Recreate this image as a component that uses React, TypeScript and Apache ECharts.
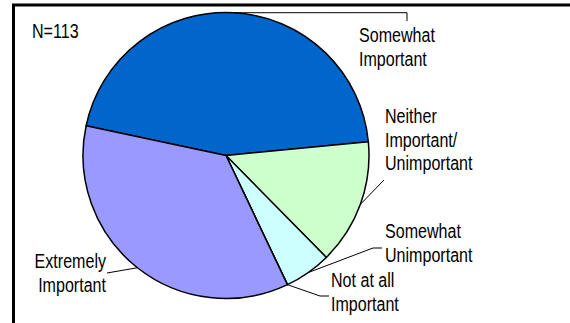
import React, { useEffect, useRef } from "react";
import * as echarts from "echarts";

const categories = [
  "Somewhat\nImportant",
  "Neither\nImportant/\nUnimportant",
  "Somewhat\nUnimportant",
  "Not at all\nImportant",
  "Extremely\nImportant",
];
const counts = [51, 16, 6, 0, 40];
const sampleLabel = "N=113";

const colors = ["#0066CC", "#CCFFCC", "#CCFFFF", "#FFFFCC", "#9999FF"];

// label placement: [x, yCenter, align, elbowX, elbowY, endX, endY]
const labelPlacement: [number, number, string, number, number, number, number][] = [
  [359, 47, "left", 407, 12.7, 407, 21],
  [385, 139.5, "left", 384, 180, 384, 180],
  [385, 243, "left", 373, 248, 382, 248],
  [331, 292, "left", 320, 296, 329, 296],
  [106, 273, "right", 107, 273, 107, 273],
];

const CENTER: [number, number] = [226, 155.5];
const RADIUS = 143;
const START_ANGLE = 168;
const FONT = "21px 'Liberation Sans', Arial, sans-serif";
const SCALE_X = 0.765;

export default function App() {
  const ref = useRef<HTMLDivElement>(null);
  useEffect(() => {
    if (!ref.current) return;
    const chart = echarts.init(ref.current, null, { renderer: "svg" });
    const total = counts.reduce((a, b) => a + b, 0);
    let cum = 0;
    const labelGraphics: any[] = [];
    counts.forEach((v, i) => {
      const mid = START_ANGLE - (360 * (cum + v / 2)) / total;
      cum += v;
      const rad = (mid * Math.PI) / 180;
      const sx = CENTER[0] + RADIUS * Math.cos(rad);
      const sy = CENTER[1] - RADIUS * Math.sin(rad);
      const p = labelPlacement[i];
      labelGraphics.push({
        type: "polyline",
        shape: { points: [[sx, sy], [p[3], p[4]], [p[5], p[6]]] },
        style: { stroke: "#000", lineWidth: 1, fill: null },
        z: 10,
      });
      labelGraphics.push({
        type: "text",
        x: p[0],
        y: p[1],
        scaleX: SCALE_X,
        style: {
          text: categories[i],
          font: FONT,
          fill: "#000",
          align: p[2],
          verticalAlign: "middle",
          lineHeight: 23.7,
        },
        z: 10,
      });
    });
    chart.setOption({
      animation: false,
      backgroundColor: "#ffffff",
      graphic: [
        {
          type: "line",
          shape: { x1: 13.5, y1: 4, x2: 13.5, y2: 323 },
          style: { stroke: "#000", lineWidth: 3 },
        },
        {
          type: "line",
          shape: { x1: 12, y1: 5, x2: 570, y2: 5 },
          style: { stroke: "#000", lineWidth: 3 },
        },
        {
          type: "text",
          x: 32,
          y: 30.5,
          scaleX: SCALE_X,
          style: {
            text: sampleLabel,
            font: FONT,
            fill: "#000",
            align: "left",
            verticalAlign: "middle",
          },
        },
        ...labelGraphics,
      ],
      series: [
        {
          type: "pie",
          center: CENTER,
          radius: RADIUS,
          startAngle: START_ANGLE,
          clockwise: true,
          minAngle: 0,
          stillShowZeroSum: true,
          silent: true,
          data: categories.map((name, i) => ({
            name,
            value: counts[i],
            itemStyle: { color: colors[i] },
          })),
          itemStyle: { borderColor: "#000", borderWidth: 1.5 },
          label: { show: false },
          labelLine: { show: false },
        },
      ],
    });
    return () => chart.dispose();
  }, []);
  return (
    <div
      ref={ref}
      style={{ position: "fixed", left: 0, top: 0, width: 570, height: 323 }}
    />
  );
}
